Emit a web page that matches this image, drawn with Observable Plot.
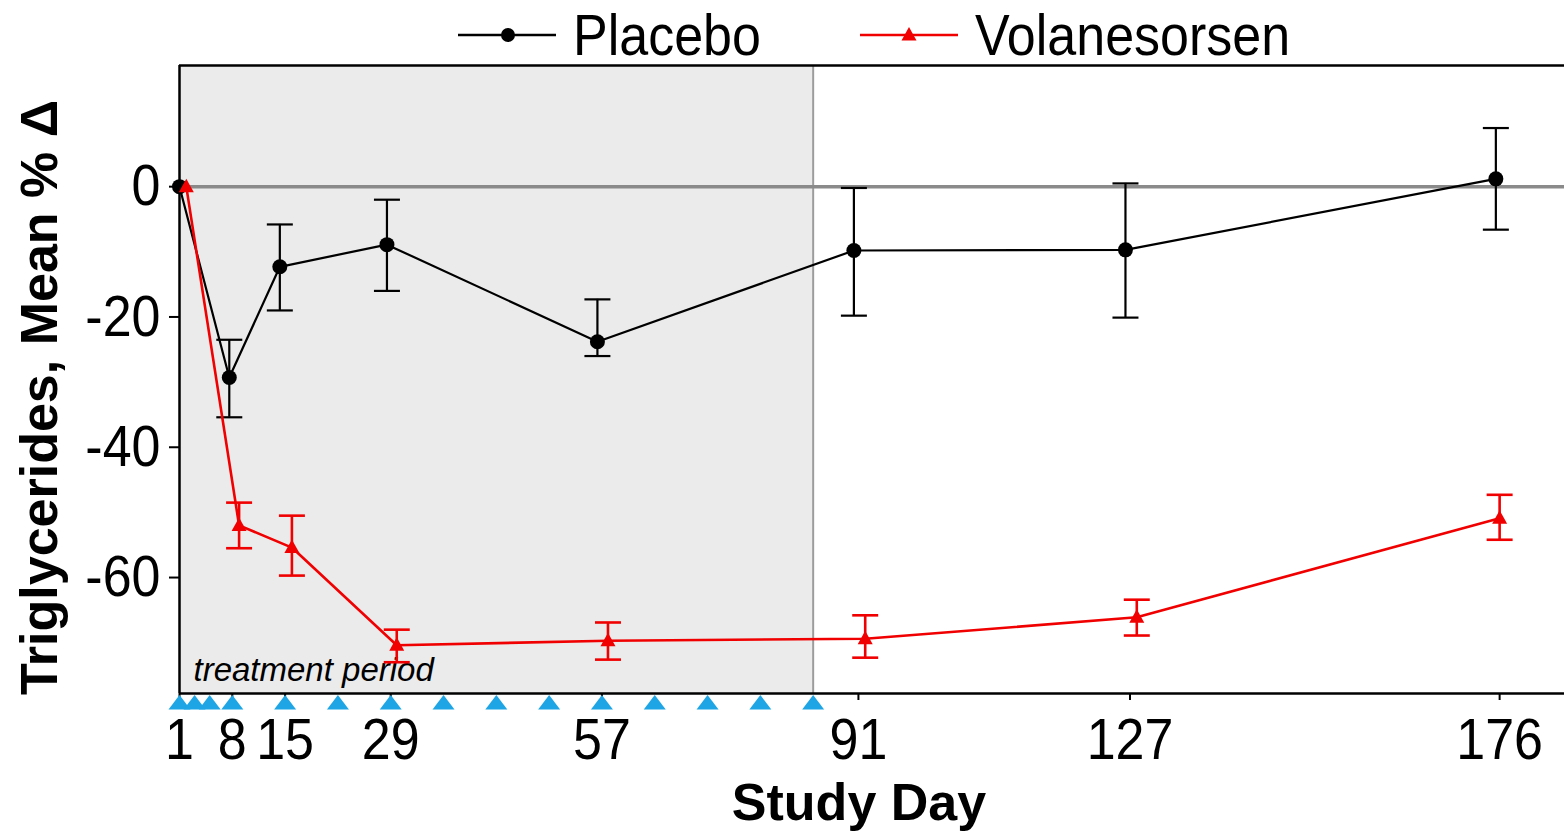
<!DOCTYPE html>
<html>
<head>
<meta charset="utf-8">
<script src="https://cdn.jsdelivr.net/npm/d3@7"></script>
<script src="https://cdn.jsdelivr.net/npm/@observablehq/plot@0.6"></script>
<style>
  html, body { margin: 0; padding: 0; background: #fff; }
  #wrap { position: relative; width: 1564px; height: 833px; overflow: hidden; font-family: "Liberation Sans", Arial, Helvetica, sans-serif; }
  #legend { position: relative; width: 1564px; height: 60px; }
  .lg-item { position: absolute; top: 5px; height: 60px; display: flex; align-items: center; }
  .lg-item span { display: inline-block; font-size: 52px; color: #000; line-height: 1; transform: scaleY(1.12); }
  #chart svg { display: block; }
</style>
</head>
<body>
<div id="wrap">
  <div id="legend"></div>
  <div id="chart"></div>
</div>
<script>
// ---- data ----
const xTicks = [1, 8, 15, 29, 57, 91, 127, 176];
const yTicks = [0, -20, -40, -60];
const doseDays = [1, 3, 5, 8, 15, 22, 29, 36, 43, 50, 57, 64, 71, 78, 85];
const treatmentStart = [1];
const treatmentEnd = [85];

const placeboDay  = [1, 7.6, 14.3, 28.5, 56.4, 90.4, 126.4, 175.5];
const placeboMean = [0, -29.3, -12.3, -8.9, -23.8, -9.8, -9.7, 1.2];
const placeboLow  = [0, -35.4, -19.0, -16.0, -26.0, -19.8, -20.1, -6.6];
const placeboHigh = [0, -23.5, -5.8, -2.0, -17.3, -0.2, 0.5, 9.0];

const volDay  = [1.9, 8.9, 15.9, 29.8, 57.8, 91.9, 127.9, 176];
const volMean = [0, -52.0, -55.4, -70.4, -69.7, -69.4, -66.1, -50.9];
const volLow  = [0, -55.5, -59.7, -73.0, -72.6, -72.3, -68.9, -54.2];
const volHigh = [0, -48.5, -50.5, -68.0, -66.9, -65.8, -63.4, -47.3];

const xDomain = [1, 184.6];
const yDomain = [-77.8, 18.6];

const seriesNames = ["Placebo", "Volanesorsen"];
const seriesColors = ["#000000", "#f00000"];

// ---- build tables ----
const placebo = placeboDay.map((d, i) => ({day: d, mean: placeboMean[i], lo: placeboLow[i], hi: placeboHigh[i]}));
const vol = volDay.map((d, i) => ({day: d, mean: volMean[i], lo: volLow[i], hi: volHigh[i]}));
const placeboErr = placebo.filter(d => d.lo !== d.hi);
const volErr = vol.filter(d => d.lo !== d.hi);
const treatment = treatmentStart.map((s, i) => ({start: s, end: treatmentEnd[i]}));

// ---- custom symbols ----
const capSymbol = { draw(ctx) { ctx.moveTo(-13, 0); ctx.lineTo(13, 0); } };
const doseSymbol = { draw(ctx) { ctx.moveTo(0, -7.5); ctx.lineTo(11, 7); ctx.lineTo(-11, 7); ctx.closePath(); } };
const markerTri = { draw(ctx) { ctx.moveTo(0, -8); ctx.lineTo(7.5, 5.5); ctx.lineTo(-7.5, 5.5); ctx.closePath(); } };

const font = "'Liberation Sans', Arial, Helvetica, sans-serif";

const chart = Plot.plot({
  width: 1564,
  height: 773,
  marginTop: 5,
  marginBottom: 140,
  marginLeft: 179,
  marginRight: 0,
  style: { fontFamily: font, color: "#000", background: "#fff", overflow: "visible" },
  x: { domain: xDomain, label: null },
  y: { domain: yDomain, label: null },
  marks: [
    Plot.rect(treatment, { x1: "start", x2: "end", fill: "#ebebeb" }),
    Plot.ruleX(treatmentEnd, { stroke: "#9c9c9c", strokeWidth: 2 }),
    Plot.ruleY([0], { stroke: "#8a8a8a", strokeWidth: 3.5 }),
    Plot.text(["treatment period"], { x: treatmentStart, frameAnchor: "bottom", textAnchor: "start", dx: 14, dy: -13, fontSize: 33, fontStyle: "italic", fill: "#000" }),
    // frame lines
    Plot.ruleX([xDomain[0]], { stroke: "#000", strokeWidth: 2.5 }),
    Plot.ruleY(yDomain, { stroke: "#000", strokeWidth: 2.5 }),
    // axes
    Plot.axisX({ ticks: xTicks, tickFormat: d => String(d), tickSize: 7, tickPadding: 17, fontSize: 52, label: null, strokeWidth: 2 }),
    Plot.axisY({ ticks: yTicks, tickFormat: d => String(d), tickSize: 10, tickPadding: 9, fontSize: 52, label: null, strokeWidth: 2 }),
    // dose triangles
    Plot.dot(doseDays, { x: d => d, frameAnchor: "bottom", dy: 9, symbol: doseSymbol, fill: "#1ea5e6", stroke: "none" }),
    // placebo
    Plot.ruleX(placeboErr, { x: "day", y1: "lo", y2: "hi", stroke: seriesColors[0], strokeWidth: 2.2 }),
    Plot.dot(placeboErr, { x: "day", y: "lo", symbol: capSymbol, stroke: seriesColors[0], fill: "none", strokeWidth: 2.2 }),
    Plot.dot(placeboErr, { x: "day", y: "hi", symbol: capSymbol, stroke: seriesColors[0], fill: "none", strokeWidth: 2.2 }),
    Plot.line(placebo, { x: "day", y: "mean", stroke: seriesColors[0], strokeWidth: 2.2 }),
    Plot.dot(placebo, { x: "day", y: "mean", r: 7.5, fill: seriesColors[0], stroke: "none" }),
    // volanesorsen
    Plot.ruleX(volErr, { x: "day", y1: "lo", y2: "hi", stroke: seriesColors[1], strokeWidth: 2.6 }),
    Plot.dot(volErr, { x: "day", y: "lo", symbol: capSymbol, stroke: seriesColors[1], fill: "none", strokeWidth: 2.6 }),
    Plot.dot(volErr, { x: "day", y: "hi", symbol: capSymbol, stroke: seriesColors[1], fill: "none", strokeWidth: 2.6 }),
    Plot.line(vol, { x: "day", y: "mean", stroke: seriesColors[1], strokeWidth: 2.6 }),
    Plot.dot(vol, { x: "day", y: "mean", symbol: markerTri, fill: seriesColors[1], stroke: "none" }),
    // axis titles
    Plot.text(["Triglycerides, Mean % Δ"], { frameAnchor: "left", textAnchor: "middle", lineAnchor: "middle", rotate: -90, dx: -139, dy: 18, fontSize: 52, fontWeight: "bold", fill: "#000" }),
    Plot.text(["Study Day"], { frameAnchor: "bottom", textAnchor: "middle", dx: -13, dy: 126, fontSize: 52, fontWeight: "bold", fill: "#000" })
  ]
});
// slight vertical stretch of tick labels, as in the reference typeface
d3.select(chart).selectAll("g[aria-label='x-axis tick label'] text, g[aria-label='y-axis tick label'] text")
  .attr("transform", function () { return (this.getAttribute("transform") || "") + " scale(1,1.12)"; });
document.getElementById("chart").appendChild(chart);

// ---- legend ----
const legend = d3.select("#legend");
const legendLeft = [458, 860];
const legendTextLeft = [573, 975];
seriesNames.forEach((name, i) => {
  const item = legend.append("div").attr("class", "lg-item").style("left", legendLeft[i] + "px");
  const svg = item.append("svg").attr("width", 100).attr("height", 30).style("overflow", "visible");
  svg.append("line").attr("x1", 0).attr("x2", 98).attr("y1", 15).attr("y2", 15)
     .attr("stroke", seriesColors[i]).attr("stroke-width", 2.5);
  if (i === 0) {
    svg.append("circle").attr("cx", 50).attr("cy", 15).attr("r", 7).attr("fill", seriesColors[i]);
  } else {
    svg.append("path").attr("d", "M49,7L56.5,20.5L41.5,20.5Z").attr("fill", seriesColors[i]);
  }
  legend.append("div").attr("class", "lg-item").style("left", legendTextLeft[i] + "px")
    .append("span").text(name);
});
</script>
</body>
</html>
